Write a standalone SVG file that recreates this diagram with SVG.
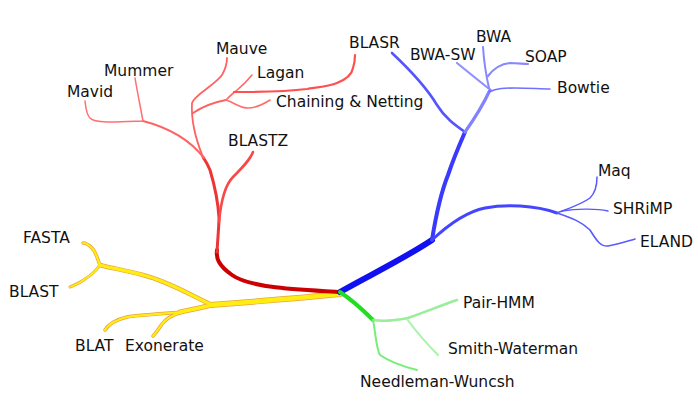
<svg xmlns="http://www.w3.org/2000/svg" xmlns:xlink="http://www.w3.org/1999/xlink" width="698" height="404" viewBox="0 0 698 404">
<style>
text{font-family:"DejaVu Sans","Liberation Sans",sans-serif;font-size:15.5px;fill:#111}
path{fill:none;stroke-linecap:round;stroke-linejoin:round}
.yo{stroke:#eaa048}
.yi{stroke:#ffee10}
</style>
<defs>
<path id="y0" d="M340,294 C300,298 250,302 210,305"/>
<path id="y1" d="M212,305 C190,295 170,282 143,275 C125,270 110,268 100,265"/>
<path id="y2" d="M100,265 C97,258 96,252 92,248 C89,245 86,243 83,243"/>
<path id="y3" d="M100,265 C95,272 90,276 85,279 C80,283 75,285 70,287"/>
<path id="y4" d="M212,305 C200,308 190,310 180,312"/>
<path id="y5" d="M182,312 C160,314 140,315 127,317 C115,320 108,325 105,330"/>
<path id="y6" d="M182,312 C172,315 165,320 162,324 C158,330 155,334 153,336"/>
</defs>
<rect width="698" height="404" fill="#fff"/>
<g id="connectors">
<g id="yellow">
<use xlink:href="#y0" class="yo" stroke-width="6"/>
<use xlink:href="#y1" class="yo" stroke-width="4.5"/>
<use xlink:href="#y2" class="yo" stroke-width="3.5"/>
<use xlink:href="#y3" class="yo" stroke-width="3"/>
<use xlink:href="#y4" class="yo" stroke-width="5"/>
<use xlink:href="#y5" class="yo" stroke-width="3.5"/>
<use xlink:href="#y6" class="yo" stroke-width="3.5"/>
<use xlink:href="#y0" class="yi" stroke-width="4.6"/>
<use xlink:href="#y1" class="yi" stroke-width="3.2"/>
<use xlink:href="#y2" class="yi" stroke-width="2.2"/>
<use xlink:href="#y3" class="yi" stroke-width="1.8"/>
<use xlink:href="#y4" class="yi" stroke-width="3.7"/>
<use xlink:href="#y5" class="yi" stroke-width="2.2"/>
<use xlink:href="#y6" class="yi" stroke-width="2.2"/>
</g>
<g id="red">
<path d="M340,292 C300,290 250,288 232,275 C218,265 216,258 217,250" stroke="#cc0000" stroke-width="4"/>
<path d="M217,252 C218,235 219,225 219,218 C218,200 213,180 210,170 C207,163 205,160 203,157" stroke="#ee3535" stroke-width="3"/>
<path d="M219,222 C221,200 225,185 233,177 C242,168 250,160 253,152" stroke="#f84848" stroke-width="2.6"/>
<path d="M204,158 C190,140 170,128 143,121" stroke="#ff6262" stroke-width="2"/>
<path d="M143,121 C140,105 137,90 135,78" stroke="#ff7070" stroke-width="1.5"/>
<path d="M143,121 C120,122 95,124 90,118 C86,114 86,108 85,101" stroke="#ff7070" stroke-width="1.5"/>
<path d="M203,157 C196,140 191,120 192,103 C194,95 215,85 222,75 C226,68 227,63 227,58" stroke="#ff6262" stroke-width="1.8"/>
<path d="M193,113 C205,105 215,102 226,100" stroke="#ff6262" stroke-width="2"/>
<path d="M226,100 C230,96 233,93 236,91 C242,86 248,80 252,75" stroke="#ff6868" stroke-width="1.6"/>
<path d="M234,92 C260,92 290,91 307,89 C320,87 330,86 337,83 C347,79 352,74 353,68 C355,62 355,58 355,55" stroke="#ff5050" stroke-width="2.2"/>
<path d="M226,100 C235,103 240,108 248,108 C258,108 265,103 270,100" stroke="#ff6e6e" stroke-width="1.6"/>
</g>
<g id="blue">
<path d="M340,292 C370,275 405,258 432,240" stroke="#1010f0" stroke-width="6"/>
<path d="M432,240 C436,215 440,195 448,175 C453,160 458,148 465,132" stroke="#3a3aff" stroke-width="4"/>
<path d="M432,240 C448,225 465,212 485,208 C505,204 535,205 557,213" stroke="#4545ff" stroke-width="3"/>
<path d="M465,132 C455,125 445,118 437,105 C425,85 408,68 392,53" stroke="#5555ff" stroke-width="2.6"/>
<path d="M465,132 C475,118 483,105 490,90" stroke="#8282ff" stroke-width="3.2"/>
<path d="M489,92 C497,88 505,88 515,88 C530,88 540,89 550,89" stroke="#7070ff" stroke-width="1.6"/>
<path d="M488,88 C478,80 468,72 457,63" stroke="#9090ff" stroke-width="2.2"/>
<path d="M489,88 C486,75 484,62 483,47" stroke="#8888ff" stroke-width="2"/>
<path d="M488,76 C494,68 500,64 510,63 C518,63 523,64 528,64" stroke="#8888ff" stroke-width="2.2"/>
<path d="M557,213 C570,208 582,204 590,198 C596,192 597,185 597,177" stroke="#5a5aff" stroke-width="1.5"/>
<path d="M562,211 C575,209 595,208 608,211" stroke="#5a5aff" stroke-width="1.3"/>
<path d="M557,213 C572,218 582,222 590,230 C595,238 600,247 608,246 C620,244 628,241 635,239" stroke="#5a5aff" stroke-width="1.6"/>
</g>
<g id="green">
<path d="M340,292 C352,300 363,310 373,320" stroke="#22dd22" stroke-width="4"/>
<path d="M373,320 C385,322 398,320 408,318 C425,312 445,304 457,300" stroke="#99ee99" stroke-width="2.6"/>
<path d="M407,319 C415,330 428,345 438,355" stroke="#aaf2aa" stroke-width="2"/>
<path d="M373,320 C376,335 376,348 380,355 C390,362 405,367 417,370" stroke="#77ee77" stroke-width="2"/>
</g>
</g>
<g id="n-mauve"><text x="216" y="54">Mauve</text></g>
<g id="n-mummer"><text x="104" y="76">Mummer</text></g>
<g id="n-mavid"><text x="67" y="97">Mavid</text></g>
<g id="n-lagan"><text x="257" y="78">Lagan</text></g>
<g id="n-chaining"><text x="276" y="107">Chaining &amp; Netting</text></g>
<g id="n-blastz"><text x="228" y="146">BLASTZ</text></g>
<g id="n-blasr"><text x="349" y="48">BLASR</text></g>
<g id="n-bwa"><text x="476" y="42">BWA</text></g>
<g id="n-bwasw"><text x="410" y="60">BWA-SW</text></g>
<g id="n-soap"><text x="525" y="62">SOAP</text></g>
<g id="n-bowtie"><text x="557" y="93">Bowtie</text></g>
<g id="n-maq"><text x="598" y="176">Maq</text></g>
<g id="n-shrimp"><text x="613" y="214">SHRiMP</text></g>
<g id="n-eland"><text x="640" y="247">ELAND</text></g>
<g id="n-fasta"><text x="23" y="243">FASTA</text></g>
<g id="n-blast"><text x="9" y="297">BLAST</text></g>
<g id="n-blat"><text x="75" y="351">BLAT</text></g>
<g id="n-exonerate"><text x="125" y="351">Exonerate</text></g>
<g id="n-pairhmm"><text x="463" y="308">Pair-HMM</text></g>
<g id="n-smith"><text x="448" y="354">Smith-Waterman</text></g>
<g id="n-needleman"><text x="360" y="387">Needleman-Wuncsh</text></g>
</svg>
